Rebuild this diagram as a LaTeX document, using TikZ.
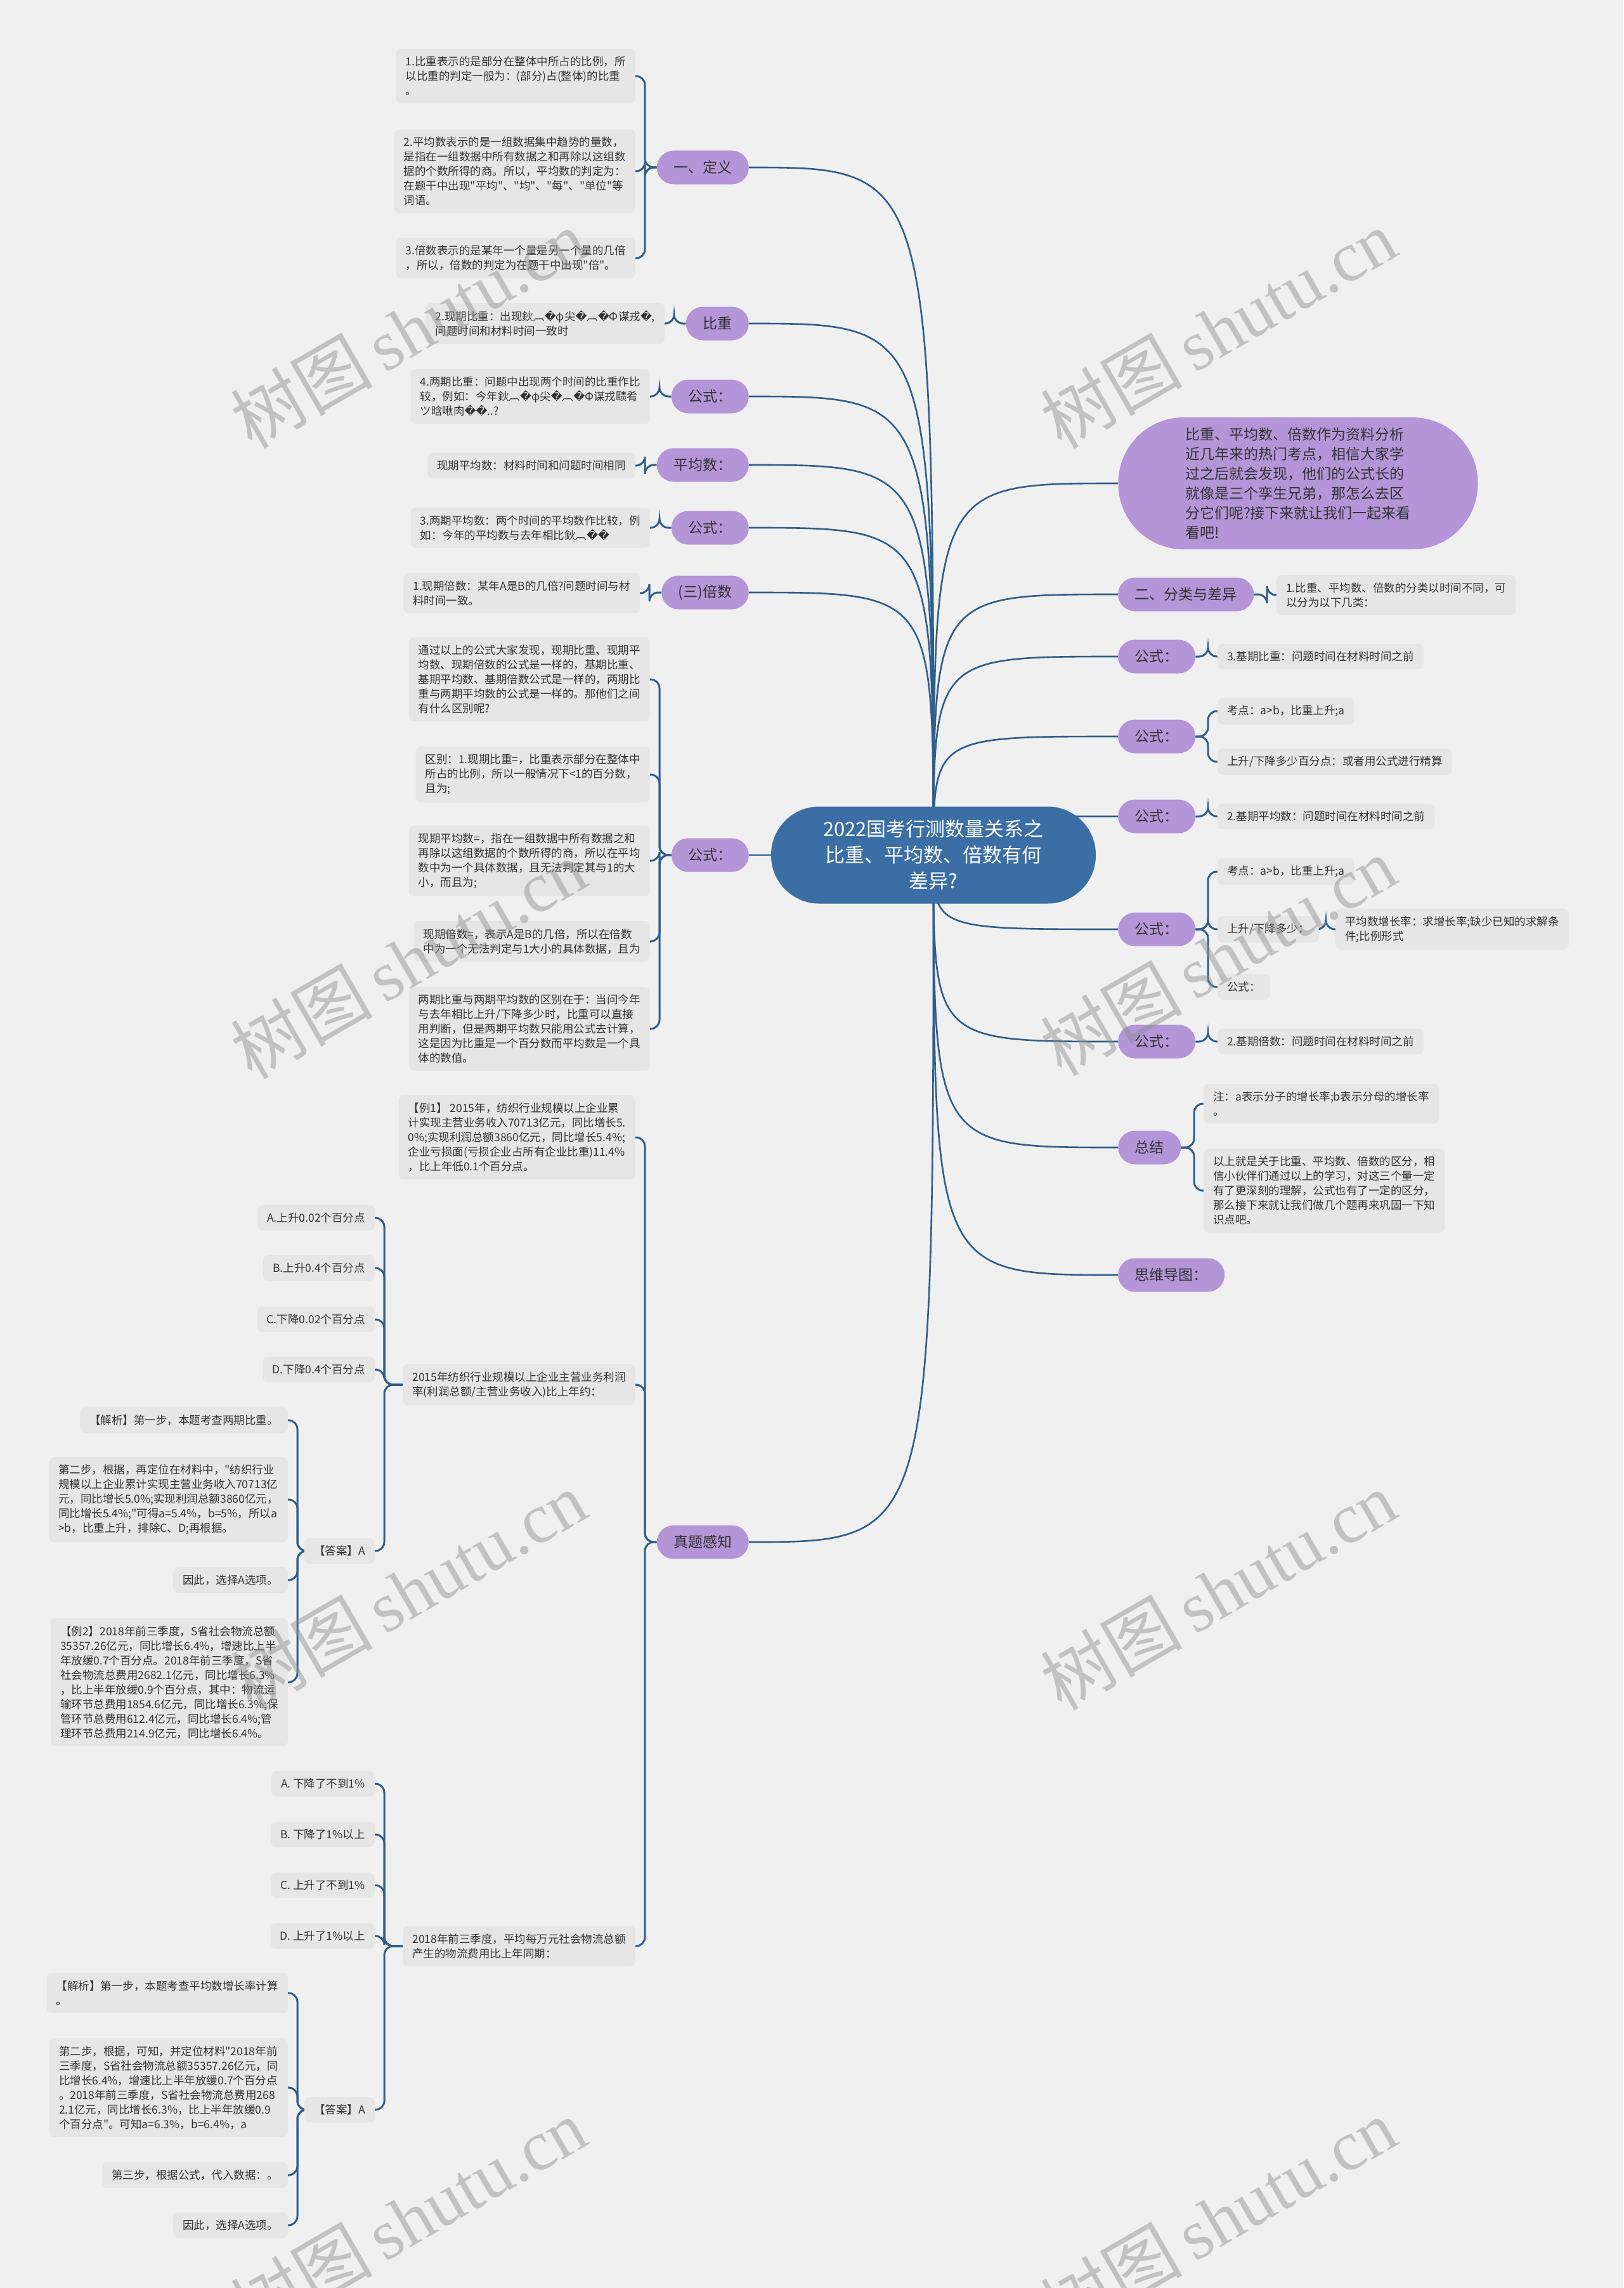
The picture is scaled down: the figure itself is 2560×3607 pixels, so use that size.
\documentclass[tikz,border=0pt]{standalone}
\usepackage{fontspec}
\setmainfont{Noto Sans CJK SC}[Ligatures=TeXOff]
\newfontfamily\djv{DejaVu Sans}
\newfontfamily\wmser{Liberation Serif}
\usetikzlibrary{calc}
\pgfdeclarelayer{bg}
\pgfsetlayers{bg,main}
\definecolor{bgc}{HTML}{F0F0F0}
\definecolor{pillc}{HTML}{B495D8}
\definecolor{rootc}{HTML}{3A6EA5}
\definecolor{boxc}{HTML}{E6E6E6}
\definecolor{linec}{HTML}{2E5E8C}
\definecolor{txtc}{HTML}{333333}
\definecolor{wmc}{HTML}{8C8C8C}
\newcommand\rp{{\djv\symbol{65533}}}
\newcommand\mmbrl[2]{\draw[bline] (#1.west) -| ($(#2.east)+(15,0)$) -- (#2.east);}
\newcommand\mmbrr[2]{\draw[bline] (#1.east) -| ($(#2.west)+(-15,0)$) -- (#2.west);}
\tikzset{
  pillb/.style={fill=pillc, rounded corners=26.5pt, minimum height=53pt, inner xsep=26.5pt, inner ysep=0pt, text=txtc, font=\fontsize{23}{28}\selectfont},
  gbox/.style={fill=boxc, rounded corners=8pt, inner xsep=15pt, inner ysep=12pt, align=left, text=txtc, font=\fontsize{17.5}{23}\selectfont},
  bline/.style={draw=linec, line width=3pt, rounded corners=14pt},
  mline/.style={draw=linec, line width=2.6pt},
  wm/.style={text=wmc, opacity=0.45, rotate=30, font=\fontsize{112}{120}\selectfont}
}
\begin{document}
\begin{tikzpicture}[x=1pt,y=-1pt]
\useasboundingbox (0,0) rectangle (2560,3607);
\begin{pgfonlayer}{bg}
\fill[bgc] (0,0) rectangle (2560,3607);
\end{pgfonlayer}

% root
\node[fill=rootc, text=white, minimum width=512pt, minimum height=153pt, rounded corners=76pt, align=center, font=\fontsize{31}{41}\selectfont] (root) at (1472,1348) {2022国考行测数量关系之\\比重、平均数、倍数有何\\差异?};

% left level 1
\node[pillb, anchor=east] (def) at (1181,264) {一、定义};
\node[pillb, anchor=east] (bz) at (1181,510) {比重};
\node[pillb, anchor=east] (gs1) at (1181,625) {公式：};
\node[pillb, anchor=east] (pjs) at (1181,733) {平均数：};
\node[pillb, anchor=east] (gs2) at (1181,832) {公式：};
\node[pillb, anchor=east] (bs) at (1181,934) {(三)倍数};
\node[pillb, anchor=east] (gs3) at (1181,1348) {公式：};
\node[pillb, anchor=east] (ztgz) at (1181,2431) {真题感知};

% left level 2
\node[gbox, anchor=east] (d1) at (1002,120) {1.比重表示的是部分在整体中所占的比例，所\\以比重的判定一般为：(部分)占(整体)的比重\\。};
\node[gbox, anchor=east] (d2) at (1002,270) {2.平均数表示的是一组数据集中趋势的量数，\\是指在一组数据中所有数据之和再除以这组数\\据的个数所得的商。所以，平均数的判定为：\\在题干中出现"平均"、"均"、"每"、"单位"等\\词语。};
\node[gbox, anchor=east] (d3) at (1002,407) {3.倍数表示的是某年一个量是另一个量的几倍\\，所以，倍数的判定为在题干中出现"倍"。};
\node[gbox, anchor=east] (bzc) at (1048,510) {2.现期比重：出现鈥︹\rp{}φ尖\rp{}︹\rp{}Φ谋戎\rp{},\\问题时间和材料时间一致时};
\node[gbox, anchor=east] (gs1c) at (1025,625) {4.两期比重：问题中出现两个时间的比重作比\\较，例如：今年鈥︹\rp{}φ尖\rp{}︹\rp{}Φ谋戎赜肴\\ツ晗啾肉\rp\rp..?};
\node[gbox, anchor=east] (pjsc) at (1002,734) {现期平均数：材料时间和问题时间相同};
\node[gbox, anchor=east] (gs2c) at (1025,832) {3.两期平均数：两个时间的平均数作比较，例\\如：今年的平均数与去年相比鈥︹\rp\rp};
\node[gbox, anchor=east] (bsc) at (1009,935) {1.现期倍数：某年A是B的几倍?问题时间与材\\料时间一致。};

\node[gbox, anchor=east] (f1) at (1025,1071) {通过以上的公式大家发现，现期比重、现期平\\均数、现期倍数的公式是一样的，基期比重、\\基期平均数、基期倍数公式是一样的，两期比\\重与两期平均数的公式是一样的。那他们之间\\有什么区别呢?};
\node[gbox, anchor=east] (f2) at (1025,1221) {区别：1.现期比重=，比重表示部分在整体中\\所占的比例，所以一般情况下<1的百分数，\\且为;};
\node[gbox, anchor=east] (f3) at (1025,1357) {现期平均数=，指在一组数据中所有数据之和\\再除以这组数据的个数所得的商，所以在平均\\数中为一个具体数据，且无法判定其与1的大\\小，而且为;};
\node[gbox, anchor=east] (f4) at (1025,1484) {现期倍数=，表示A是B的几倍，所以在倍数\\中为一个无法判定与1大小的具体数据，且为};
\node[gbox, anchor=east] (f5) at (1025,1622) {两期比重与两期平均数的区别在于：当问今年\\与去年相比上升/下降多少时，比重可以直接\\用判断，但是两期平均数只能用公式去计算，\\这是因为比重是一个百分数而平均数是一个具\\体的数值。};

\node[gbox, anchor=east] (e1) at (1002,1793) {【例1】 2015年，纺织行业规模以上企业累\\计实现主营业务收入70713亿元，同比增长5.\\0\%;实现利润总额3860亿元，同比增长5.4\%;\\企业亏损面(亏损企业占所有企业比重)11.4\%\\，比上年低0.1个百分点。};
\node[gbox, anchor=east] (e2) at (1002,2183) {2015年纺织行业规模以上企业主营业务利润\\率(利润总额/主营业务收入)比上年约：};
\node[gbox, anchor=east] (e3) at (1002,3068) {2018年前三季度，平均每万元社会物流总额\\产生的物流费用比上年同期：};

\node[gbox, anchor=east] (oa1) at (591,1920) {A.上升0.02个百分点};
\node[gbox, anchor=east] (ob1) at (591,1999) {B.上升0.4个百分点};
\node[gbox, anchor=east] (oc1) at (591,2080) {C.下降0.02个百分点};
\node[gbox, anchor=east] (od1) at (591,2159) {D.下降0.4个百分点};
\node[gbox, anchor=east] (an1) at (591,2445) {【答案】A};

\node[gbox, anchor=east] (j1) at (454,2239) {【解析】第一步，本题考查两期比重。};
\node[gbox, anchor=east] (j2) at (454,2364) {第二步，根据，再定位在材料中，"纺织行业\\规模以上企业累计实现主营业务收入70713亿\\元，同比增长5.0\%;实现利润总额3860亿元，\\同比增长5.4\%;"可得a=5.4\%，b=5\%，所以a\\>b，比重上升，排除C、D;再根据。};
\node[gbox, anchor=east] (j3) at (454,2491) {因此，选择A选项。};
\node[gbox, anchor=east] (j4) at (454,2652) {【例2】2018年前三季度，S省社会物流总额\\35357.26亿元，同比增长6.4\%，增速比上半\\年放缓0.7个百分点。2018年前三季度，S省\\社会物流总费用2682.1亿元，同比增长6.3\%\\，比上半年放缓0.9个百分点，其中：物流运\\输环节总费用1854.6亿元，同比增长6.3\%;保\\管环节总费用612.4亿元，同比增长6.4\%;管\\理环节总费用214.9亿元，同比增长6.4\%。};

\node[gbox, anchor=east] (oa2) at (591,2812) {A. 下降了不到1\%};
\node[gbox, anchor=east] (ob2) at (591,2892) {B. 下降了1\%以上};
\node[gbox, anchor=east] (oc2) at (591,2972) {C. 上升了不到1\%};
\node[gbox, anchor=east] (od2) at (591,3052) {D. 上升了1\%以上};
\node[gbox, anchor=east] (an2) at (591,3326) {【答案】A};

\node[gbox, anchor=east] (k1) at (454,3142) {【解析】第一步，本题考查平均数增长率计算\\。};
\node[gbox, anchor=east] (k2) at (454,3291) {第二步，根据，可知，并定位材料"2018年前\\三季度，S省社会物流总额35357.26亿元，同\\比增长6.4\%，增速比上半年放缓0.7个百分点\\。2018年前三季度，S省社会物流总费用268\\2.1亿元，同比增长6.3\%，比上半年放缓0.9\\个百分点"。可知a=6.3\%，b=6.4\%，a};
\node[gbox, anchor=east] (k3) at (454,3429) {第三步，根据公式，代入数据：。};
\node[gbox, anchor=east] (k4) at (454,3508) {因此，选择A选项。};

% right level 1
\node[pillb, minimum width=567pt, minimum height=208pt, rounded corners=103pt, align=left, font=\fontsize{23}{31}\selectfont] (intro) at (2047,762) {比重、平均数、倍数作为资料分析\\近几年来的热门考点，相信大家学\\过之后就会发现，他们的公式长的\\就像是三个孪生兄弟，那怎么去区\\分它们呢?接下来就让我们一起来看\\看吧!};
\node[pillb, anchor=west] (fl) at (1763,937) {二、分类与差异};
\node[pillb, anchor=west] (rg1) at (1763,1035) {公式：};
\node[pillb, anchor=west] (rg2) at (1763,1161) {公式：};
\node[pillb, anchor=west] (rg3) at (1763,1287) {公式：};
\node[pillb, anchor=west] (rg4) at (1763,1465) {公式：};
\node[pillb, anchor=west] (rg5) at (1763,1642) {公式：};
\node[pillb, anchor=west] (zj) at (1763,1809) {总结};
\node[pillb, anchor=west] (swdt) at (1763,2010) {思维导图：};

% right level 2
\node[gbox, anchor=west] (flc) at (2013,938) {1.比重、平均数、倍数的分类以时间不同，可\\以分为以下几类：};
\node[gbox, anchor=west] (rg1c) at (1920,1035) {3.基期比重：问题时间在材料时间之前};
\node[gbox, anchor=west] (rg2a) at (1920,1121) {考点：a>b，比重上升;a};
\node[gbox, anchor=west] (rg2b) at (1920,1201) {上升/下降多少百分点：或者用公式进行精算};
\node[gbox, anchor=west] (rg3c) at (1920,1287) {2.基期平均数：问题时间在材料时间之前};
\node[gbox, anchor=west] (rg4a) at (1920,1374) {考点：a>b，比重上升;a};
\node[gbox, anchor=west] (rg4b) at (1920,1465) {上升/下降多少：};
\node[gbox, anchor=west] (rg4bb) at (2106,1465) {平均数增长率：求增长率;缺少已知的求解条\\件;比例形式};
\node[gbox, anchor=west] (rg4c) at (1920,1556) {公式：};
\node[gbox, anchor=west] (rg5c) at (1920,1642) {2.基期倍数：问题时间在材料时间之前};
\node[gbox, anchor=west] (zja) at (1898,1740) {注：a表示分子的增长率;b表示分母的增长率\\。};
\node[gbox, anchor=west] (zjb) at (1898,1877) {以上就是关于比重、平均数、倍数的区分，相\\信小伙伴们通过以上的学习，对这三个量一定\\有了更深刻的理解，公式也有了一定的区分，\\那么接下来就让我们做几个题再来巩固一下知\\识点吧。};

% connectors
\begin{pgfonlayer}{bg}
\foreach \n in {def,bz,gs1,pjs,gs2,bs,gs3,ztgz}
  \draw[mline] (root.center) .. controls (root.center |- \n.east) .. (\n.east);
\foreach \n in {intro,fl,rg1,rg2,rg3,rg4,rg5,zj,swdt}
  \draw[mline] (root.center) .. controls (root.center |- \n.west) .. (\n.west);
\foreach \c in {d1,d2,d3} {\mmbrl{def}{\c}}
\mmbrl{bz}{bzc}
\mmbrl{gs1}{gs1c}
\mmbrl{pjs}{pjsc}
\mmbrl{gs2}{gs2c}
\mmbrl{bs}{bsc}
\foreach \c in {f1,f2,f3,f4,f5} {\mmbrl{gs3}{\c}}
\foreach \c in {e1,e2,e3} {\mmbrl{ztgz}{\c}}
\foreach \c in {oa1,ob1,oc1,od1,an1} {\mmbrl{e2}{\c}}
\foreach \c in {j1,j2,j3,j4} {\mmbrl{an1}{\c}}
\foreach \c in {oa2,ob2,oc2,od2,an2} {\mmbrl{e3}{\c}}
\foreach \c in {k1,k2,k3,k4} {\mmbrl{an2}{\c}}
\mmbrr{fl}{flc}
\mmbrr{rg1}{rg1c}
\mmbrr{rg2}{rg2a}
\mmbrr{rg2}{rg2b}
\mmbrr{rg3}{rg3c}
\mmbrr{rg4}{rg4a}
\mmbrr{rg4}{rg4b}
\mmbrr{rg4}{rg4c}
\mmbrr{rg4b}{rg4bb}
\mmbrr{rg5}{rg5c}
\mmbrr{zj}{zja}
\mmbrr{zj}{zjb}
\end{pgfonlayer}

% watermarks
\foreach \p [count=\i] in {(644,518),(1921,518),(644,1512),(1921,1507),(644,2507),(1921,2507),(644,3496),(1921,3496)}
  \node[wm] (wm\i) at \p {树图\,{\wmser shutu.cn}};
\end{tikzpicture}
\end{document}
